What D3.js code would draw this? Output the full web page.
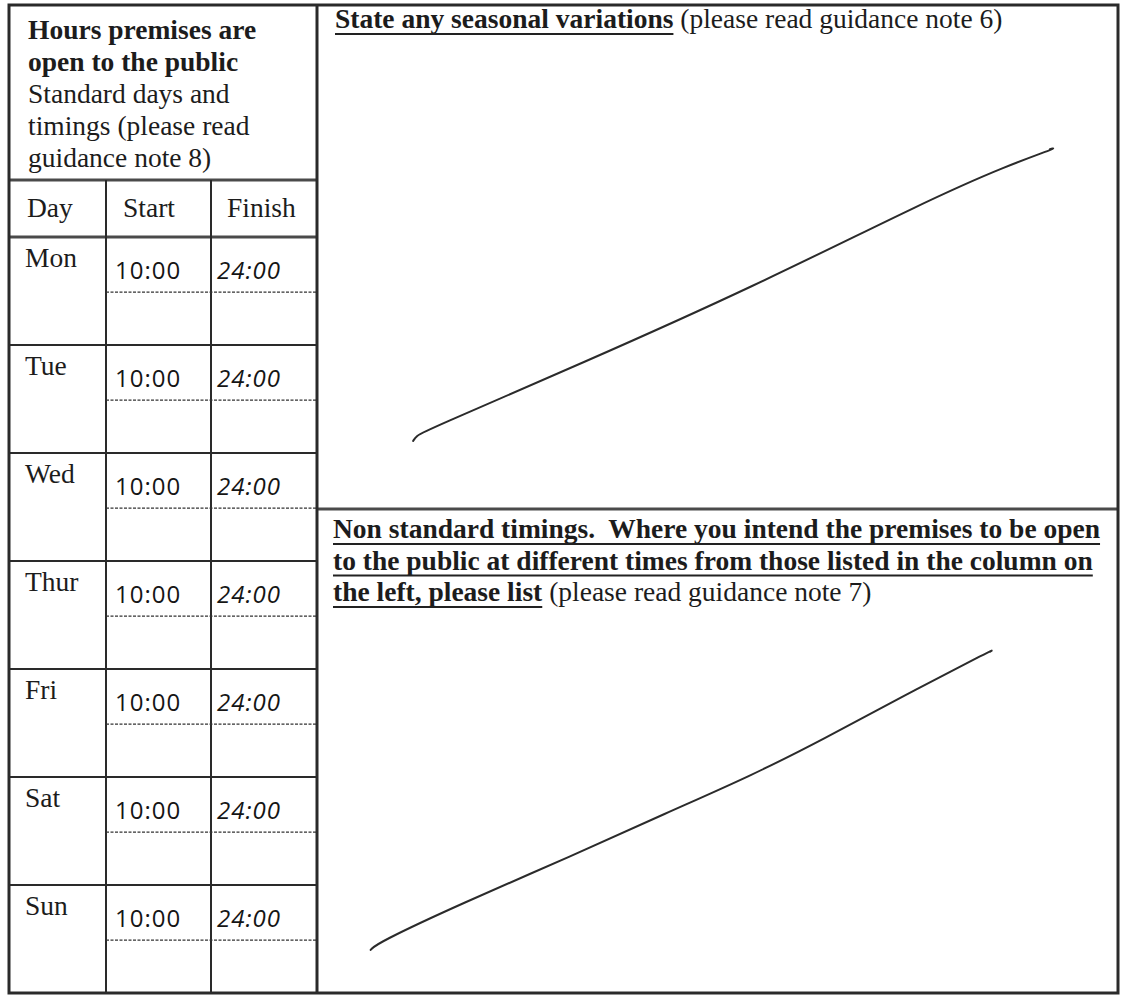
<!DOCTYPE html>
<html>
<head>
<meta charset="utf-8">
<script src="https://cdn.jsdelivr.net/npm/d3@7"></script>
<style>
body { margin: 0; background: #fff; }
</style>
</head>
<body>
<div class="container"></div>
<script>
const ht = 1001
const wd = 1121

// the form content
const days = ["Mon", "Tue", "Wed", "Thur", "Fri", "Sat", "Sun"]
const startTimes = ["10:00", "10:00", "10:00", "10:00", "10:00", "10:00", "10:00"]
const finishTimes = ["24:00", "24:00", "24:00", "24:00", "24:00", "24:00", "24:00"]
const colHeads = ["Day", "Start", "Finish"]
const headBold = ["Hours premises are", "open to the public"]
const headNormal = ["Standard days and", "timings (please read", "guidance note 8)"]

// right hand boxes: [bold underlined bit, normal bit] per line
const seasonalLines = [["State any seasonal variations", " (please read guidance note 6)"]]
const nonStdLines = [
    ["Non standard timings.  Where you intend the premises to be open", ""],
    ["to the public at different times from those listed in the column on", ""],
    ["the left, please list", " (please read guidance note 7)"]
]

// the two pen strokes, in percent of their box (x across, y down)
const strokeOneX = [12.0, 12.4, 13.5, 33.2, 54.1, 76.3, 86.1, 92.6, 91.5]
const strokeOneY = [86.5, 85.5, 84.5, 71.0, 56.2, 38.7, 31.9, 28.2, 28.6]
const strokeTwoX = [6.7, 7.5, 17.9, 31.8, 43.6, 54.1, 63.3, 73.0, 84.8, 84.0]
const strokeTwoY = [91.1, 89.7, 81.6, 71.7, 62.8, 55.2, 47.5, 38.8, 28.7, 29.5]

// layout
const L = 9, C1 = 106, C2 = 211, R = 317, RR = 1118
const T = 5, HB = 180, DB = 237, B = 993, MID = 509
const ink = "#1c1c1c"
const lineCol = "#2a2a2a"
const serif = "'Liberation Serif', 'Times New Roman', serif"
const hand = "'Open Sans', sans-serif"
const fs = 27.5

const svgC = d3.select(".container")
.append("svg")
.attr("height", ht)
.attr("width", wd)

const yRow = d3.scaleBand()
.domain(days)
.range([DB, B])

const rowH = yRow.bandwidth()

// grid lines first

function hLine(x1, x2, y, w, col) {
    svgC.append("line")
    .attr("x1", x1).attr("x2", x2)
    .attr("y1", y).attr("y2", y)
    .style("stroke", col || lineCol)
    .style("stroke-width", w)
}
function vLine(x, y1, y2, w, col) {
    svgC.append("line")
    .attr("x1", x).attr("x2", x)
    .attr("y1", y1).attr("y2", y2)
    .style("stroke", col || lineCol)
    .style("stroke-width", w)
}

hLine(L, R, HB, 3, "#4a4a4a")
hLine(L, R, DB, 3, "#4a4a4a")
vLine(C1, HB, B, 2)
vLine(C2, HB, B, 2)

days.forEach((d, i) => {
    if (i > 0) hLine(L, R, yRow(d), 2)
    // dotted line half way down each day
    svgC.append("line")
    .attr("x1", C1).attr("x2", R)
    .attr("y1", yRow(d) + rowH * 0.51).attr("y2", yRow(d) + rowH * 0.51)
    .style("stroke", "#333")
    .style("stroke-width", 1.3)
    .style("stroke-dasharray", "3,1.5")
})

hLine(R, RR, MID, 3, "#4a4a4a")
vLine(R, T, B, 3)

// outer box
svgC.append("rect")
.attr("x", L).attr("y", T)
.attr("width", RR - L).attr("height", B - T)
.attr("fill", "none")
.style("stroke", lineCol)
.style("stroke-width", 3)

// left header text
headBold.concat(headNormal).forEach((t, i) => {
    svgC.append("text")
    .attr("x", 28)
    .attr("y", 39 + i * 32)
    .attr("font-family", serif)
    .attr("font-size", fs)
    .attr("font-weight", i < headBold.length ? "bold" : "normal")
    .attr("fill", ink)
    .text(t)
})

const colX = [27, 123, 227]
colHeads.forEach((t, i) => {
    svgC.append("text")
    .attr("x", colX[i])
    .attr("y", 217)
    .attr("font-family", serif)
    .attr("font-size", fs)
    .attr("fill", ink)
    .text(t)
})

// day rows
svgC.selectAll("text.day")
.data(days)
.enter()
.append("text")
.attr("class", "day")
.attr("x", 25)
.attr("y", d => yRow(d) + 30)
.attr("font-family", serif)
.attr("font-size", fs)
.attr("fill", ink)
.text(d => d)

svgC.selectAll("text.start")
.data(startTimes)
.enter()
.append("text")
.attr("class", "start")
.attr("x", C1 + 9)
.attr("y", (d, i) => yRow(days[i]) + 42)
.attr("font-family", hand)
.attr("font-weight", 400)
.attr("font-size", 24)
.attr("letter-spacing", 1)
.attr("fill", "#151515")
.text(d => d)

svgC.selectAll("text.finish")
.data(finishTimes)
.enter()
.append("text")
.attr("class", "finish")
.attr("x", C2 + 6)
.attr("y", (d, i) => yRow(days[i]) + 42)
.attr("font-family", hand)
.attr("font-weight", 400)
.attr("font-style", "italic")
.attr("font-size", 24)
.attr("letter-spacing", 1)
.attr("fill", "#151515")
.text(d => d)

// right hand paragraphs with the underlined bold bits
function para(lines, x, y0, step) {
    lines.forEach((ln, i) => {
        let y = y0 + i * step
        let txt = svgC.append("text")
        .attr("x", x)
        .attr("y", y)
        .attr("font-family", serif)
        .attr("font-size", fs)
        .attr("fill", ink)
        .style("white-space", "pre")

        let b = txt.append("tspan")
        .attr("font-weight", "bold")
        .text(ln[0])

        if (ln[1] != "") {
            txt.append("tspan").text(ln[1])
        }

        let len = b.node().getComputedTextLength()
        hLine(x, x + len, y + 6, 2.2, "#222")
    })
}

para(seasonalLines, 335, 28, 32)
para(nonStdLines, 333, 538, 31.5)

// pen strokes
const lineFunc = d3.line()
.x(d => d[0])
.y(d => d[1])
.curve(d3.curveBasis)

function penStroke(xs, ys, y0, y1) {
    const sx = d3.scaleLinear().domain([0, 100]).range([R, RR])
    const sy = d3.scaleLinear().domain([0, 100]).range([y0, y1])
    let pts = xs.map((v, i) => [sx(v), sy(ys[i])])
    svgC.append("path")
    .attr("d", lineFunc(pts))
    .attr("fill", "none")
    .style("stroke", "#2b2b2b")
    .style("stroke-width", 2)
    .style("stroke-linecap", "round")
    .style("stroke-linejoin", "round")
}

penStroke(strokeOneX, strokeOneY, T, MID)
penStroke(strokeTwoX, strokeTwoY, MID, B)
</script>
</body>
</html>
